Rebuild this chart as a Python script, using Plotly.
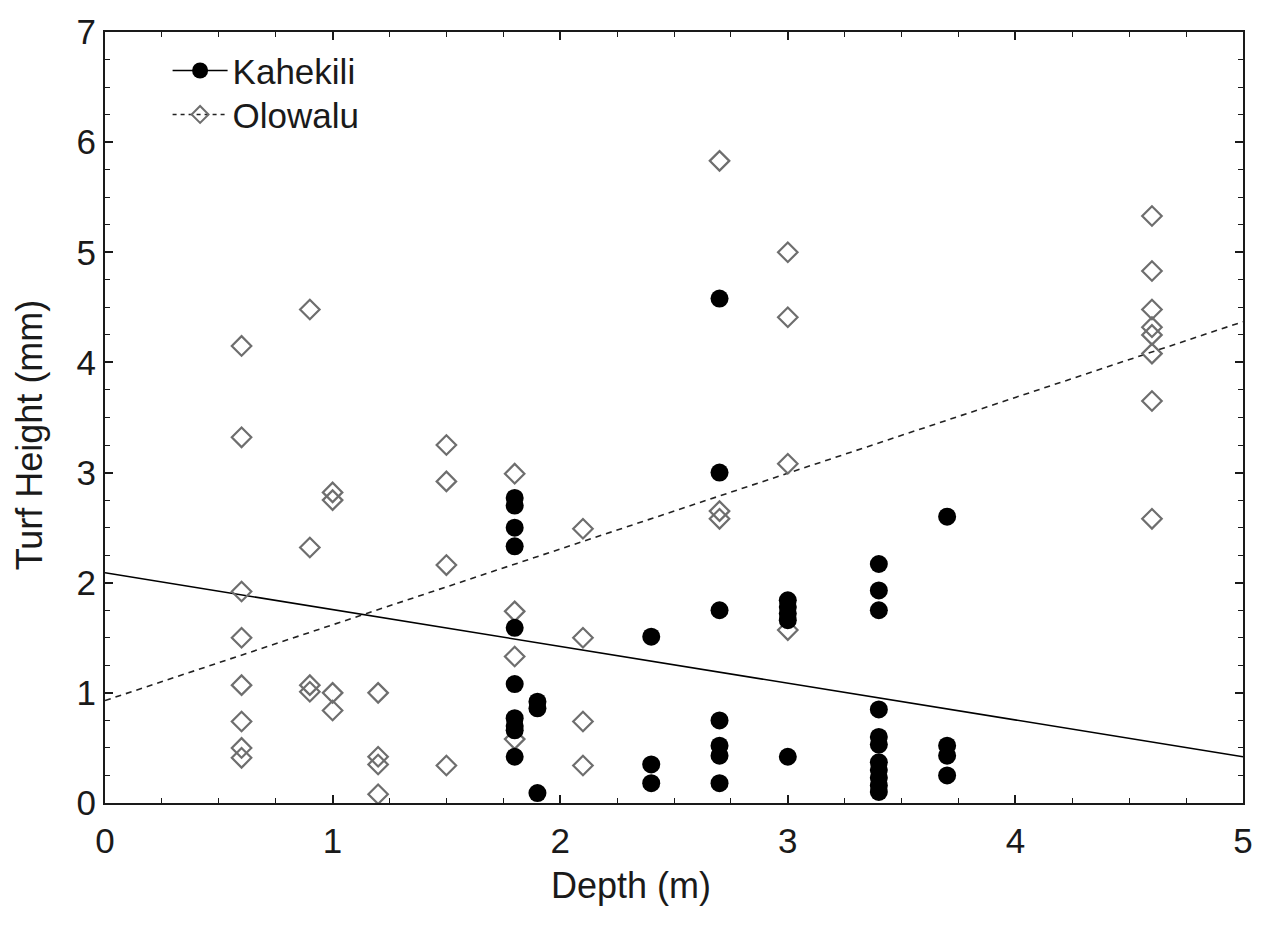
import plotly.graph_objects as go

# ---- data ----
kahekili_depth = [1.8]*10 + [1.9]*3 + [2.4]*3 + [2.7]*7 + [3.0]*5 + [3.4]*11 + [3.7]*4
kahekili_turf = [2.77, 2.70, 2.50, 2.33, 1.59, 1.08, 0.77, 0.70, 0.66, 0.42,
                 0.92, 0.86, 0.09,
                 1.51, 0.35, 0.18,
                 4.58, 3.00, 1.75, 0.75, 0.52, 0.43, 0.18,
                 1.84, 1.78, 1.72, 1.66, 0.42,
                 2.17, 1.93, 1.75, 0.85, 0.60, 0.53, 0.37, 0.30, 0.23, 0.16, 0.10,
                 2.60, 0.52, 0.43, 0.25]

olowalu_depth = [0.6]*8 + [0.9]*4 + [1.0]*4 + [1.2]*4 + [1.5]*4 + [1.8]*4 + [2.1]*4 + [2.7]*3 + [3.0]*4 + [4.6]*8
olowalu_turf = [4.15, 3.32, 1.92, 1.50, 1.07, 0.74, 0.50, 0.41,
                4.48, 2.32, 1.07, 1.01,
                2.82, 2.75, 1.00, 0.84,
                1.00, 0.42, 0.35, 0.08,
                3.25, 2.92, 2.16, 0.34,
                2.99, 1.74, 1.33, 0.58,
                2.49, 1.50, 0.74, 0.34,
                5.83, 2.65, 2.58,
                5.00, 4.41, 3.08, 1.57,
                5.33, 4.83, 4.48, 4.32, 4.25, 4.08, 3.65, 2.58]

fit_depth = [0, 5]
kahekili_fit = [2.09, 0.42]
olowalu_fit = [0.93, 4.37]

x_ticks = [0, 1, 2, 3, 4, 5]
y_ticks = [0, 1, 2, 3, 4, 5, 6, 7]

FONT = "Liberation Sans, Arial, sans-serif"
GRAY = "#6e6e6e"
INK = "#1a1a1a"

fig = go.Figure()

# fit lines
fig.add_trace(go.Scatter(x=fit_depth, y=kahekili_fit, mode="lines",
                         line=dict(color="black", width=1.6), showlegend=False, hoverinfo="skip"))
fig.add_trace(go.Scatter(x=fit_depth, y=olowalu_fit, mode="lines",
                         line=dict(color="#222222", width=1.6, dash="6px,5px"), showlegend=False, hoverinfo="skip"))

# points
fig.add_trace(go.Scatter(x=olowalu_depth, y=olowalu_turf, mode="markers", showlegend=False,
                         marker=dict(symbol="diamond-open", size=15, color=GRAY, line=dict(width=2.2, color=GRAY))))
fig.add_trace(go.Scatter(x=kahekili_depth, y=kahekili_turf, mode="markers", showlegend=False,
                         marker=dict(symbol="circle", size=18, color="black", line=dict(width=0))))

# legend entries
fig.add_trace(go.Scatter(x=[None], y=[None], mode="lines+markers", name="Kahekili", legend="legend",
                         line=dict(color="black", width=1.6),
                         marker=dict(symbol="circle", size=17, color="black")))
fig.add_trace(go.Scatter(x=[None], y=[None], mode="lines+markers", name="Olowalu", legend="legend2",
                         line=dict(color="#222222", width=1.6, dash="4px,4px"),
                         marker=dict(symbol="diamond-open", size=13, color=GRAY, line=dict(width=2, color=GRAY))))

axis_common = dict(
    showline=True, linecolor=INK, linewidth=2, mirror="allticks",
    ticks="inside", ticklen=8, tickwidth=1.5, tickcolor=INK,
    showgrid=False, zeroline=False,
    tickfont=dict(family=FONT, size=35, color=INK),
    minor=dict(ticks="inside", ticklen=5, tickwidth=1.2, tickcolor=INK, dtick=0.25, showgrid=False),
)

fig.update_xaxes(range=[0, 5], tickvals=x_ticks, ticktext=[str(v) for v in x_ticks],
                 ticklabelstandoff=6, **axis_common)
fig.update_yaxes(range=[0, 7], tickvals=y_ticks, ticktext=[str(v) for v in y_ticks],
                 **axis_common)

legend_common = dict(xanchor="left", yanchor="top",
                     font=dict(family=FONT, size=35, color=INK),
                     bgcolor="rgba(0,0,0,0)", itemwidth=55)

fig.update_layout(
    width=1265, height=932,
    margin=dict(l=105, r=22, t=25, b=129),
    paper_bgcolor="white", plot_bgcolor="white",
    legend=dict(x=0.055, y=0.988, **legend_common),
    legend2=dict(x=0.055, y=0.931, **legend_common),
    showlegend=True,
    annotations=[
        dict(text="Depth (m)", xref="paper", yref="paper", x=0.462, y=-0.107,
             xanchor="center", yanchor="middle", showarrow=False,
             font=dict(family=FONT, size=36, color=INK)),
        dict(text="Turf Height (mm)", xref="paper", yref="paper", x=-0.066, y=0.478,
             xanchor="center", yanchor="middle", showarrow=False, textangle=-90,
             font=dict(family=FONT, size=36, color=INK)),
    ],
)

fig.write_html("out.html")
